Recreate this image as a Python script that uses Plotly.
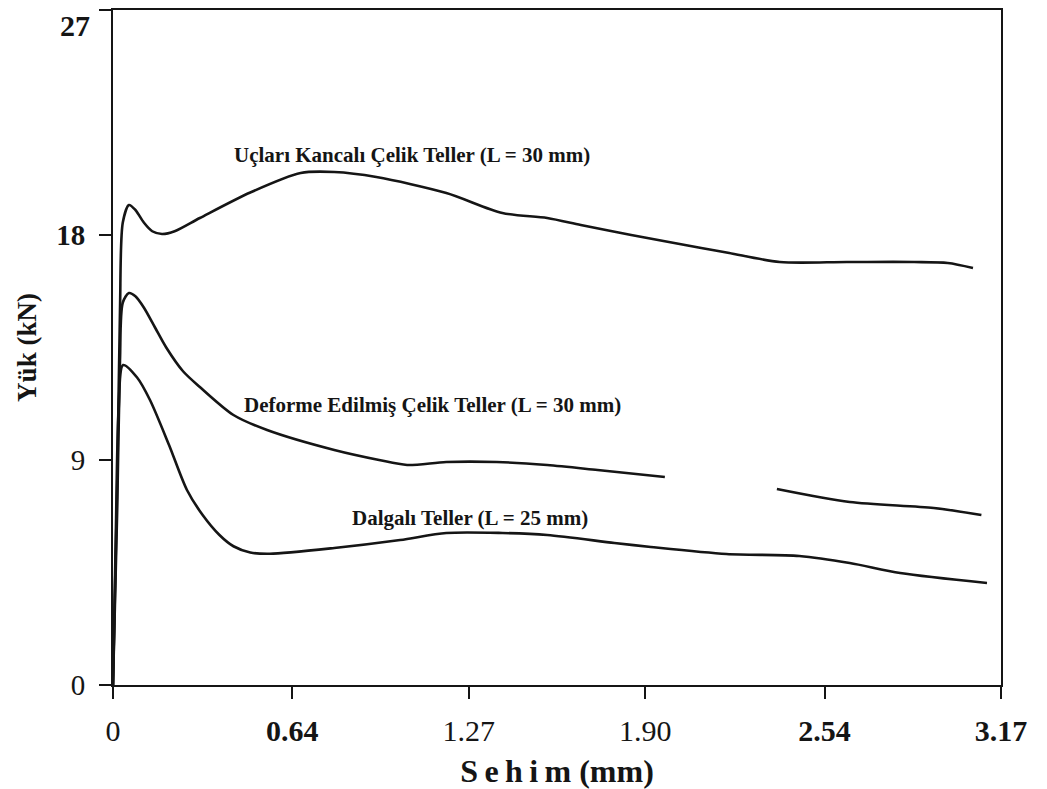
import plotly.graph_objects as go

# Sehim (mm) / Yük (kN)
x_kancali = [0.0, 0.015, 0.025, 0.035, 0.057, 0.08, 0.11, 0.14, 0.175, 0.22, 0.31, 0.49, 0.67, 0.79, 0.94,
             1.19, 1.39, 1.55, 1.67, 1.85, 2.10, 2.20, 2.38, 2.62, 2.86, 2.98, 3.07]
y_kancali = [0.0, 8.0, 15.0, 18.5, 19.2, 19.0, 18.5, 18.15, 18.04, 18.15, 18.68, 19.7, 20.48, 20.52, 20.32,
             19.68, 18.88, 18.68, 18.4, 18.0, 17.48, 17.28, 16.92, 16.92, 16.92, 16.88, 16.68]

x_deforme = [0.0, 0.015, 0.025, 0.035, 0.057, 0.08, 0.11, 0.15, 0.19, 0.25, 0.31, 0.43, 0.55, 0.79, 0.95, 1.05,
             1.19, 1.37, 1.55, 1.73, 1.97, None, 2.37, 2.63, 2.93, 3.10]
y_deforme = [0.0, 7.0, 13.0, 15.3, 15.68, 15.55, 15.1, 14.3, 13.5, 12.55, 11.92, 10.8, 10.2, 9.4, 9.0, 8.8,
             8.92, 8.92, 8.8, 8.6, 8.32, None, 7.84, 7.32, 7.08, 6.8]

x_dalgali = [0.0, 0.01, 0.02, 0.036, 0.086, 0.132, 0.20, 0.264, 0.32, 0.38, 0.43, 0.49, 0.56, 0.79, 1.025, 1.19,
             1.39, 1.55, 1.79, 1.92, 2.19, 2.45, 2.63, 2.81, 3.12]
y_dalgali = [0.0, 6.0, 11.0, 12.8, 12.3, 11.4, 9.6, 7.8, 6.8, 6.0, 5.55, 5.3, 5.25, 5.48, 5.8, 6.08,
             6.08, 6.0, 5.68, 5.52, 5.24, 5.16, 4.88, 4.48, 4.08]

x_ticks = [0, 0.64, 1.27, 1.90, 2.54, 3.17]
x_tick_labels = ["0", "<b>0.64</b>", "1.27", "1.90", "<b>2.54</b>", "<b>3.17</b>"]
y_ticks = [0, 9, 18, 27]
y_tick_labels = ["0", "9", "<b>18</b>", ""]
top_label = "<b>27</b>"

labels = ["Uçları Kancalı Çelik Teller (L = 30 mm)",
          "Deforme Edilmiş Çelik Teller (L = 30 mm)",
          "Dalgalı Teller (L = 25 mm)"]
label_x = [1.068, 1.139, 1.275]
label_y = [21.2, 11.2, 6.68]

FONT = "Liberation Serif"
INK = "#151515"

fig = go.Figure()
for xs, ys in [(x_kancali, y_kancali), (x_deforme, y_deforme), (x_dalgali, y_dalgali)]:
    fig.add_trace(go.Scatter(x=xs, y=ys, mode="lines",
                             line=dict(color=INK, width=2.6, shape="spline", smoothing=0.8),
                             connectgaps=False, showlegend=False, hoverinfo="skip"))

for t, lx, ly in zip(labels, label_x, label_y):
    fig.add_annotation(x=lx, y=ly, xref="x", yref="y", text="<b>" + t + "</b>",
                       showarrow=False, font=dict(family=FONT, size=21, color=INK))

# top y label placed just below the top frame line, as in the reference
fig.add_annotation(x=0, y=1, xref="paper", yref="paper", text=top_label, showarrow=False,
                   xanchor="right", yanchor="top", xshift=-21, yshift=3,
                   font=dict(family=FONT, size=30, color=INK))

thin = "\u2009"
fig.update_layout(
    width=1047, height=789,
    margin=dict(l=113, r=46, t=10, b=104),
    paper_bgcolor="white", plot_bgcolor="white",
    font=dict(family=FONT, color=INK),
    xaxis=dict(range=[0, 3.17], tickvals=x_ticks, ticktext=x_tick_labels, automargin=False,
               showgrid=False, zeroline=False, showline=True, linecolor=INK, linewidth=2,
               mirror=True, ticks="outside", ticklen=12, tickwidth=1.5, tickcolor=INK,
               ticklabelstandoff=6,
               tickfont=dict(family=FONT, size=30, color=INK),
               title=dict(text="<b>" + thin.join("Sehim") + " (mm)</b>",
                          font=dict(family=FONT, size=32, color=INK), standoff=14)),
    yaxis=dict(range=[0, 27], tickvals=y_ticks, ticktext=y_tick_labels, automargin=False,
               showgrid=False, zeroline=False, showline=True, linecolor=INK, linewidth=2,
               mirror=True, ticks="outside", ticklen=12, tickwidth=1.5, tickcolor=INK,
               ticklabelstandoff=8,
               tickfont=dict(family=FONT, size=29, color=INK),
               title=dict(text="<b>Yük (kN)</b>", font=dict(family=FONT, size=27, color=INK),
                          standoff=12)),
)

fig.write_html("out.html")
